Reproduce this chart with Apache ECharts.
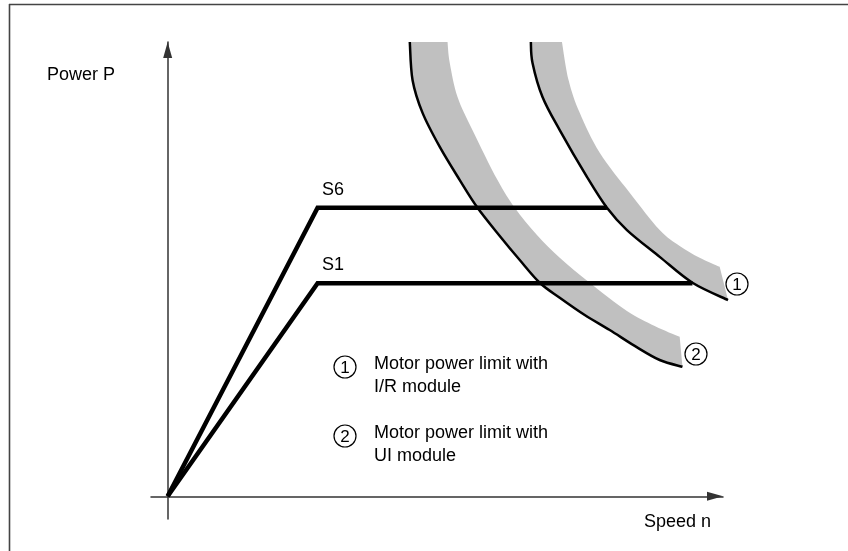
<!DOCTYPE html>
<html><head><meta charset="utf-8">
<script src="https://cdn.jsdelivr.net/npm/echarts@6/dist/echarts.min.js"></script>
<style>html,body{margin:0;padding:0;background:#fff}#c{width:848px;height:551px}</style>
</head><body><div id="c"></div>
<script>
// Axis ranges (arbitrary units, schematic chart)
const speedRange = [-3, 100];
const powerRange = [-5, 100];

// Operating curves S6 and S1
const s6Speed = [0, 27.0, 79.1];
const s6Power = [0, 63.5, 63.5];
const s1Speed = [0, 27.0, 94.5];
const s1Power = [0, 46.9, 46.9];

// Band 1: motor power limit with I/R module (inner = black edge, outer = grey edge)
const band1InnerSpeed = [65.4, 65.7, 67.5, 70.6, 75.5, 79.1, 82.7, 88.6, 94.5, 100.9];
const band1InnerPower = [100.0, 95.4, 87.9, 80.6, 70.3, 63.5, 58.6, 52.7, 47.0, 43.2];
const band1OuterSpeed = [71.0, 72.2, 74.2, 77.8, 83.2, 88.6, 92.2, 95.8, 99.4];
const band1OuterPower = [100.0, 91.6, 84.4, 75.6, 66.8, 58.6, 55.1, 52.5, 50.5];

// Band 2: motor power limit with UI module
const band2InnerSpeed = [43.6, 44.1, 45.9, 49.0, 52.6, 55.8, 59.8, 63.4, 67.0, 70.6, 75.1, 79.6, 84.1, 88.6, 92.7];
const band2InnerPower = [100.0, 91.6, 84.4, 76.9, 69.6, 63.5, 57.3, 52.0, 47.0, 43.7, 39.9, 36.6, 33.1, 30.0, 28.5];
const band2OuterSpeed = [50.4, 50.8, 52.2, 54.9, 59.4, 62.5, 66.5, 70.6, 76.0, 82.7, 87.7, 92.2];
const band2OuterPower = [100.0, 95.4, 87.9, 80.6, 69.6, 63.5, 57.5, 52.5, 47.0, 40.8, 37.5, 35.1];

const FONT = '"Liberation Sans", Arial, Helvetica, sans-serif';

function pairs(xs, ys) { return xs.map((x, i) => [x, ys[i]]); }

// Catmull-Rom smoothing of pixel points into cubic bezier path commands
function crPath(pts) {
  let d = '';
  for (let i = 0; i < pts.length - 1; i++) {
    const p0 = pts[Math.max(i - 1, 0)], p1 = pts[i], p2 = pts[i + 1], p3 = pts[Math.min(i + 2, pts.length - 1)];
    const c1 = [p1[0] + (p2[0] - p0[0]) / 6, p1[1] + (p2[1] - p0[1]) / 6];
    const c2 = [p2[0] - (p3[0] - p1[0]) / 6, p2[1] - (p3[1] - p1[1]) / 6];
    d += ' C' + c1[0].toFixed(2) + ',' + c1[1].toFixed(2) + ' ' + c2[0].toFixed(2) + ',' + c2[1].toFixed(2) + ' ' + p2[0].toFixed(2) + ',' + p2[1].toFixed(2);
  }
  return d;
}

function band(inN, inP, outN, outP) {
  return {
    type: 'custom', coordinateSystem: 'cartesian2d', clip: false, silent: true, z: 2,
    data: [[inN[0], inP[0]]],
    renderItem: function (params, api) {
      const inner = inN.map((x, i) => api.coord([x, inP[i]]));
      const outer = outN.map((x, i) => api.coord([x, outP[i]])).reverse();
      const fillD = 'M' + inner[0][0] + ',' + inner[0][1] + crPath(inner) +
        ' L' + outer[0][0] + ',' + outer[0][1] + crPath(outer) + ' Z';
      const edgeD = 'M' + inner[0][0] + ',' + inner[0][1] + crPath(inner);
      return {
        type: 'group',
        children: [
          { type: 'path', shape: { pathData: fillD }, style: { fill: '#c0c0c0', stroke: null } },
          { type: 'path', shape: { pathData: edgeD }, style: { fill: null, stroke: '#000', lineWidth: 2.5 } }
        ]
      };
    }
  };
}
function opLine(xs, ys) {
  return { type: 'line', data: pairs(xs, ys), showSymbol: false, symbol: 'none', clip: false, silent: true, z: 3,
    lineStyle: { color: '#000', width: 4.5, join: 'miter', cap: 'butt' } };
}
function axisCfg(range) {
  return {
    type: 'value', min: range[0], max: range[1],
    axisLine: { show: true, onZero: true, symbol: ['none', 'triangle'], symbolSize: [9, 16], symbolOffset: [0, -8],
      lineStyle: { color: '#333', width: 1.5 } },
    axisTick: { show: false }, axisLabel: { show: false }, splitLine: { show: false }
  };
}
function txt(text, x, y, size, align) {
  return { type: 'text', silent: true, z: 10, style: { text: text, x: x, y: y, font: (size || 18) + 'px ' + FONT,
    fill: '#000', textAlign: align || 'left', align: align || 'left', textVerticalAlign: 'middle', verticalAlign: 'middle' } };
}
function circ(label, cx, cy) {
  return [
    { type: 'circle', silent: true, z: 10, shape: { cx: cx, cy: cy, r: 11 }, style: { fill: '#fff', stroke: '#000', lineWidth: 1.2 } },
    txt(label, cx, cy + 1, 17, 'center')
  ];
}

const chart = echarts.init(document.getElementById('c'));
chart.setOption({
  animation: false,
  backgroundColor: '#fff',
  grid: { left: 151, right: 125, top: 42, bottom: 32, outerBoundsMode: 'none' },
  xAxis: axisCfg(speedRange),
  yAxis: axisCfg(powerRange),
  series: [
    band(band2InnerSpeed, band2InnerPower, band2OuterSpeed, band2OuterPower),
    band(band1InnerSpeed, band1InnerPower, band1OuterSpeed, band1OuterPower),
    opLine(s6Speed, s6Power),
    opLine(s1Speed, s1Power)
  ],
  graphic: [
    { type: 'line', silent: true, shape: { x1: 9, y1: 4.5, x2: 848, y2: 4.5 }, style: { stroke: '#444', lineWidth: 1.6 } },
    { type: 'line', silent: true, shape: { x1: 9.5, y1: 4, x2: 9.5, y2: 551 }, style: { stroke: '#444', lineWidth: 1.6 } },
    txt('Power P', 47, 75),
    txt('Speed n', 644, 522),
    txt('S6', 322, 190),
    txt('S1', 322, 265),
    txt('Motor power limit with', 374, 364),
    txt('I/R module', 374, 387),
    txt('Motor power limit with', 374, 433),
    txt('UI module', 374, 456)
  ].concat(circ('1', 345, 367), circ('2', 345, 436), circ('1', 737, 284), circ('2', 696, 354))
});
</script>
</body></html>
